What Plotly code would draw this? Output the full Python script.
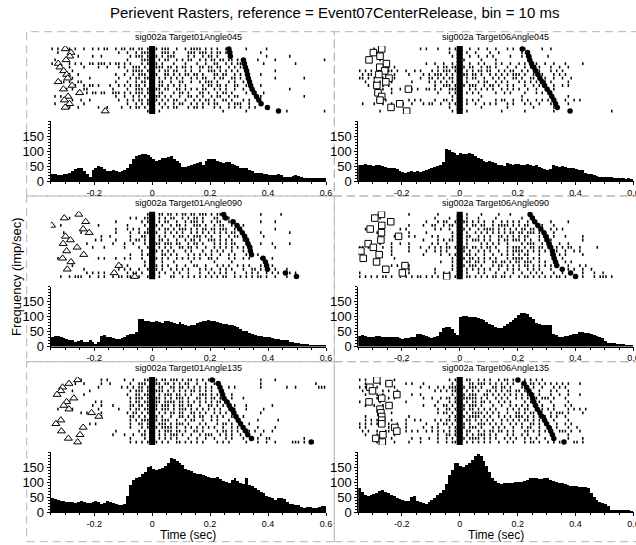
import plotly.graph_objects as go

W, H = 636, 545
FONT = "Liberation Sans, Arial, sans-serif"

BIN_START = -0.35
BIN_WIDTH = 0.01
N_BINS = 95

main_title = "Perievent Rasters, reference = Event07CenterRelease, bin = 10 ms"
panel_titles = ["sig002a Target01Angle045", "sig002a Target06Angle045",
                "sig002a Target01Angle090", "sig002a Target06Angle090",
                "sig002a Target01Angle135", "sig002a Target06Angle135"]
x_tick_vals = [-0.2, 0, 0.2, 0.4, 0.6]
x_tick_text = ["-0.2", "0", "0.2", "0.4", "0.6"]
y_tick_vals = [0, 50, 100, 150]
y_tick_text = ["0", "50", "100", "150"]
y_label = "Frequency (imp/sec)"
x_label = "Time (sec)"

# ---------------- histograms (imp/sec), 95 bins of 10 ms from -0.35 s ----------------
hist_t01_a045 = [24, 22, 19, 20, 24, 25, 27, 33, 40, 43,
                 42, 35, 22, 13, 38, 45, 50, 48, 40, 34,
                 34, 36, 33, 31, 32, 36, 45, 58, 75, 84,
                 88, 90, 89, 86, 80, 72, 66, 70, 76, 78,
                 80, 82, 74, 68, 60, 48, 46, 50, 55, 58,
                 60, 63, 55, 68, 74, 74, 73, 68, 62, 60,
                 62, 63, 58, 55, 50, 45, 44, 42, 38, 34,
                 28, 26, 26, 24, 22, 21, 19, 20, 22, 20,
                 14, 13, 15, 17, 19, 18, 12, 11, 10, 9,
                 9, 10, 11, 11, 10]
hist_t06_a045 = [52, 55, 58, 55, 52, 50, 52, 55, 50, 48,
                 45, 44, 44, 40, 35, 30, 27, 30, 32, 30,
                 32, 31, 34, 36, 40, 44, 48, 50, 54, 62,
                 108, 104, 98, 92, 88, 94, 90, 90, 94, 90,
                 84, 78, 73, 68, 62, 66, 64, 60, 55, 52,
                 50, 60, 58, 55, 58, 57, 55, 54, 56, 55,
                 50, 52, 48, 44, 40, 38, 40, 52, 50, 48,
                 50, 46, 44, 44, 44, 40, 38, 36, 28, 24,
                 22, 20, 18, 15, 14, 15, 14, 12, 10, 10,
                 9, 9, 8, 9, 8]
hist_t01_a090 = [33, 36, 36, 33, 30, 27, 25, 22, 18, 20,
                 22, 18, 16, 22, 18, 10, 18, 38, 41, 33,
                 32, 30, 28, 27, 30, 33, 39, 42, 44, 50,
                 93, 92, 88, 86, 84, 84, 86, 84, 80, 86,
                 86, 84, 80, 78, 82, 76, 73, 70, 72, 75,
                 80, 84, 86, 88, 90, 88, 86, 82, 80, 78,
                 76, 75, 72, 70, 66, 61, 55, 52, 48, 44,
                 41, 38, 36, 34, 33, 33, 31, 28, 27, 25,
                 24, 22, 18, 16, 14, 13, 11, 10, 9, 8,
                 8, 7, 7, 6, 4]
hist_t06_a090 = [38, 39, 37, 35, 34, 35, 37, 36, 34, 34,
                 34, 34, 33, 32, 30, 28, 29, 30, 33, 34,
                 44, 45, 40, 36, 33, 31, 33, 38, 50, 62,
                 66, 66, 60, 48, 40, 100, 104, 103, 101, 101,
                 100, 98, 95, 90, 84, 78, 73, 66, 64, 62,
                 70, 78, 85, 90, 98, 106, 112, 113, 110, 100,
                 95, 80, 77, 75, 74, 73, 72, 45, 39, 34,
                 35, 36, 37, 39, 42, 45, 50, 50, 48, 46,
                 42, 39, 36, 34, 30, 20, 15, 13, 12, 11,
                 10, 9, 8, 7, 6]
hist_t01_a135 = [46, 42, 40, 38, 37, 35, 34, 33, 31, 34,
                 37, 32, 31, 30, 34, 36, 32, 28, 31, 37,
                 33, 30, 27, 25, 23, 26, 52, 90, 108, 112,
                 118, 128, 132, 150, 152, 145, 140, 144, 148, 152,
                 165, 180, 178, 170, 162, 158, 145, 140, 137, 130,
                 126, 128, 124, 120, 118, 114, 115, 116, 110, 104,
                 100, 98, 108, 113, 104, 98, 92, 113, 90, 86,
                 80, 75, 68, 62, 55, 50, 48, 40, 46, 48,
                 44, 33, 28, 26, 24, 22, 17, 15, 16, 18,
                 15, 14, 16, 20, 19]
hist_t06_a135 = [80, 68, 58, 55, 56, 60, 64, 70, 72, 68,
                 62, 58, 54, 48, 44, 40, 38, 38, 50, 55,
                 36, 32, 30, 28, 34, 40, 48, 58, 64, 72,
                 92, 124, 140, 165, 165, 155, 150, 156, 165, 172,
                 188, 194, 186, 170, 155, 135, 115, 105, 97, 95,
                 98, 96, 96, 98, 99, 100, 101, 104, 108, 112,
                 114, 112, 111, 110, 112, 113, 108, 104, 100, 98,
                 96, 94, 90, 86, 86, 88, 84, 82, 82, 80,
                 62, 50, 40, 33, 30, 28, 20, 8, 5, 4,
                 4, 5, 6, 4, 3]

# ---------------- event times per trial (s), top trial first ----------------
start_t01_a045 = [-0.300, -0.280, -0.284, -0.297, -0.324, -0.318, -0.305, -0.295, -0.291,
                  -0.324, -0.276, -0.306, -0.250, -0.290, -0.303, -0.285, -0.300, -0.162]
end_t01_a045 = [0.265, 0.268, 0.270, 0.315, 0.318, 0.322, 0.326, 0.329, 0.332,
                0.336, 0.340, 0.345, 0.352, 0.360, 0.368, 0.376, 0.398, 0.436]
start_t06_a045 = [-0.269, -0.298, -0.275, -0.313, -0.253, -0.276, -0.259, -0.279, -0.244,
                  -0.255, -0.286, -0.177, -0.282, -0.269, -0.275, -0.207, -0.237, -0.183]
end_t06_a045 = [0.216, 0.234, 0.238, 0.242, 0.248, 0.256, 0.262, 0.270, 0.277,
                0.285, 0.293, 0.302, 0.311, 0.318, 0.325, 0.331, 0.337, 0.381]
start_t01_a090 = [-0.253, -0.303, -0.229, -0.347, -0.238, -0.217, -0.299, -0.282, -0.307,
                  -0.259, -0.295, -0.236, -0.309, -0.280, -0.115, -0.293, -0.131, -0.060]
end_t01_a090 = [0.247, 0.254, 0.279, 0.293, 0.302, 0.311, 0.319, 0.326, 0.331,
                0.337, 0.339, 0.343, 0.383, 0.391, 0.395, 0.398, 0.460, 0.498]
start_t06_a090 = [-0.270, -0.293, -0.238, -0.269, -0.309, -0.270, -0.211, -0.272, -0.316,
                  -0.298, -0.341, -0.278, -0.333, -0.287, -0.189, -0.255, -0.198, -0.045]
end_t06_a090 = [0.243, 0.251, 0.259, 0.270, 0.280, 0.291, 0.297, 0.302, 0.308,
                0.314, 0.320, 0.323, 0.326, 0.331, 0.335, 0.354, 0.383, 0.400]
start_t01_a135 = [-0.257, -0.287, -0.309, -0.315, -0.328, -0.270, -0.295, -0.305, -0.287,
                  -0.209, -0.184, -0.315, -0.332, -0.238, -0.313, -0.249, -0.289, -0.257]
end_t01_a135 = [0.207, 0.228, 0.234, 0.239, 0.243, 0.248, 0.257, 0.266, 0.274,
                0.282, 0.289, 0.297, 0.305, 0.314, 0.323, 0.330, 0.343, 0.549]
start_t06_a135 = [-0.286, -0.244, -0.310, -0.301, -0.217, -0.269, -0.313, -0.244, -0.275,
                  -0.272, -0.269, -0.269, -0.269, -0.224, -0.217, -0.265, -0.290, -0.267]
end_t06_a135 = [0.201, 0.222, 0.231, 0.239, 0.247, 0.252, 0.256, 0.262, 0.268,
                0.277, 0.285, 0.293, 0.300, 0.308, 0.314, 0.320, 0.325, 0.360]

# ---------------- rasters: one string per trial, one char per 10 ms bin ('|' = spike) ----------------
raster_t01_a045 = [
    "|.|.. ||.|. .|..| .|.|| ..|.| |.||. ||.|| .|.|| |..|. .|.|| ||.|. |.|.. |.... ..|.. ....| ..... ..... ..... .....",
    "..|.. .|... ..... ..... ...|. .|..| .|||. |..|| |.|.. ..||| .|||. |.||. |.... ..... ..|.. ..... ..... ..... .....",
    "..... ....| ....| ..|.. ..... ..|.| ||.|| ||.|. |||.. ..|.| ..|.| |.|.. .|... ..... ....| ..... ..|.. ..... .....",
    ".|... ..... ..... ..... ..... .|... .|||| |.|.| |..|. |.||. .|.|. ||.|| .||.| ..... .|... ..|.. ..... ..... ....|",
    "|.... .|.|. |..|| .|||. |.||. |.|.. .|.|| ||.|. ..|.. .|... |..|. .||.. |.|.| |.... ...|. ..... ....| ..... .....",
    "..... .|... .|... .|..| ...|. |..|| |.|.| .|||. ||.|. ||.|. .||.| |.||. .|.|. |.... ..... ..... ..... ..... .....",
    "..... ..|.. ..... ..... ..... .|.|| ||.|. |.|.| |.||. .|.|. .|..| ||.|. |.|.| ..... ..... ..|.. ..... ..... .....",
    "..... .|..| ..... ..... ..|.. |..|. |||.| .|..| |.|.| .||.| |.|.. .||.| |..|. |.... ..|.. ..... ..... ..... .....",
    "..... ..|.. ...|. ..... ...|. ..|.| |.||| ..|.| .|.|. |..|. |.||. .|.|| ..||. |.... ..... ..|.. ..... ..|.. .....",
    "...|| .|..| |.... ..... ..|.. .|..| .||.| |.||. .|..| |..|. .|.|| |.|.. .|.|. .|... ..... ..... ..... ..... .....",
    "..... ...|. .|.|| .|... |..|. |.|.| |.|.| |.||. |.|.| .|... ..|.| |.||. |..|| ..|.. ..|.. ..... ..... ..... .....",
    "..... |.|.. .||.. ..... .|... .|..| ||.|| .||.| |..|| .|.|. |.||. .|.|. |..|. .|... ..... ..... ..|.. ..... .....",
    "..... ..... ..|.| |.||. .|||. |.|.| ||.|. |.||. ..|.| |.|.. .||.| ..|.| |.|.. ..|.. ...|. ..... ..... ..... .....",
    ".|.|. .|... ..... ..... ..|.. |..|. |.|.| .||.| .|..| ..||. |.|.. |.||. .|.|| ..... ..|.. ..... ..... ..|.. .....",
    "..... ..|.. |..|. ..... ...|. .|.|. ||.|| .|.|. |.||. .|..| .|.|| .|..| |.|.. .|.|. ..... ..... ..... ..... .....",
    ".|... .|... .|... ..... ..... .|..| .|.|| |.|.| ..|.| |..|. |.|.| .||.. .|.|| |..|. ..... ..... ..... ..... .....",
    "..... .|..| ..... .|..| ....| ..|.| |.|.| |..|. |.||. ..|.| |.|.. .|.|. .|.|. |..|. |.... ..... ..... ..... .....",
    "..... ..... ..... ..... ..... ..... ...|. ..|.. ..... ..... ..... ....| ..... ..|.. ..... ..... .|... ..... ....|",
]
raster_t06_a045 = [
    "..... |..|. ..... ..... .|.|. ..|.. .|.|. |..|. .|..| ..|.. .|.|. ..|.. ...|. .|... ..... ..... ..... ..... .....",
    "..... .|... ..... ..... ..... ..... .|..| ..|.. |.... |..|. ..... .|... ..... ..... ..... ..... ..... ..... .....",
    "..... ..... ..... ..... ..... ..... ..|.. |..|. .|..| .|... ..|.. .|..| ..... |.... ..... ..... ..... ..... .....",
    "..... ..|.. ..... ..... ..... ..... ..... .|... ..|.. ..|.. ..... ...|. ..... ..... ..... ..... ..... ..... .....",
    "..... ..... ..... ..... ...|. .|..| ..|.| |..|. .|.|. ..|.| ..|.. |.|.. .|..| ..|.. .|... ..|.. ..... ..... .....",
    "..... ..|.. |.|.. ..... ..... ..|.| |.||. .|.|| ..|.| |.|.. .|..| ..|.| ..|.. .|..| ..|.. ..... ..... ..... .....",
    "|.|.| .|.|. ||.|. .|..| .|... |.|.| ||.|| |.|.| .||.| |..|. |.||. .|.|. |.|.. .|.|. |.... ..... ..... ..... .....",
    ".|.|| .|..| ..|.. ..|.. ..|.| .|||. |.|.| .||.| |.|.. |.|.| .|.|| |.|.. |..|. ..|.| .|... ..... ..... ..... .....",
    "||.|. |..|| |.|.. ..... .|..| |.|.| .||.| |.|.| |..|. .|.|. |..|| .|..| |.|.| ..|.. |..|. ..... ..... ..... .....",
    "..|.. |.|.. .|... ...|. ....| .|.|. |.|.| |.|.. .|.|| ..|.| .|... |.|.| .|..| .|... ..|.. ..... ..... ..... .....",
    "...|. ||.|. |.... ..... ..... .|..| ||.|| .|.|| |..|. ||.|. .|.|. ..|.. |.|.| ..|.. |.|.. ..... ..... ..... .....",
    "..... .|.|. .|..| .|.|. |..|| .|.|. .|||. |..|. |.|.| .|..| .|.|. |..|. .|... ..|.. ..... ..... ..... ..... .....",
    "..... ..... .|... ..... ..... ..|.. .|.|. ..|.| .|... ..|.. |.|.. ..|.. .|.|. .|... ..... ..... ..... ..... .....",
    "..... ..... ..... ..... ..... ..... ..|.. ..... ..|.. ..... ..... .|... ..... ..... ..|.. ..... ..... ..... .....",
    "..... .|..| ..... ..|.| .|... .|..| |.|.. |.|.| .|... ..|.| |..|. .|.|. .|.|. |.... .|..| .|... ..... ..... .....",
    ".|... |..|. .|..| |..|. ..|.| |..|. .|.|| |.|.. |..|. |.|.. .|.|. ..|.| ..|.. .|... ..|.. ..... ..... ..... .....",
    "..... ..... ..... ..... ..... ..... .|... ..... ..|.. ..... .|... ..... |.... ..|.. ..... ..... ..... ..... .....",
    "..... ..|.. ..... .|... ..... ..... ..|.. ..|.. ..... ....| ..... ..|.. ..... ..|.. ..... ..... ..... ..|.. .....",
]
raster_t01_a090 = [
    "..... ..... ..... ..... ..... ..... ...|| |.||. ||.|. ||.|| .|||. |.||. ..... ..... ..|.. ....| ..... ..... .....",
    "..... .|... ..... ..... ..... ..|.| ..||. |.|.| .||.. |.|.| |.|.. .||.| .|... ..... ..... ..... ..... ..... .....",
    "..... ..... ..... ..... ..|.. ..... .|.|| ..|.| |..|. .|.|| |.|.. |.||. .|.|. ..... ..|.. ..|.. ..... ..... .....",
    "...|. ..... ..... .|... ..... .|... ..|.. .|.|. .|.|| .|..| ||.|. .|.|| ..|.| .|... ..... ..... ..... ..... .....",
    "..... ..... .|... ..... ..|.. .|.|. |..|. ..|.| |.|.| ||.|. |.||. ||.|| |..|. |.... ..... ..|.. ..... ..... .....",
    "....| ..... |..|. ..... ..|.. ..|.. |.||. ||..| .|.|. |..|. |.|.| .|.|. |.||. ..... ..|.. ..... ..|.. ..... .....",
    "..... ..... ..... ..|.. |.... ..|.. .||.| |.|.| ..|.| |.|.| ||.|. |..|. .|.|| ..... ...|. ..... ..... ..... .....",
    "..... ..... ..... |.|.. ..|.. ..|.| |.|.. |.||. |..|. .|.|| .|..| ||.|. |.|.. .|... ..... ..... ..... ..... .....",
    "..... ..... ..|.. ..... .|... |..|. ..|.| .||.| ||.|| ..|.| |.|.. .|.|. |.||. ..|.. ..|.. .|... ..|.. ..... .....",
    "..... ..... ....| ...|. ..... |.... |..|. |.|.| .|..| |.||. |..|. .|.|. |.|.| .|... ..... ..|.. ..... ..... .....",
    "..... ..... ..... ..... ..... ..... .|..| .|.|. |.|.. .|.|. ..|.. |.|.| ..|.. .|... ..... ..... ..... ..... .....",
    "..... ..... ..... ..... ..... ..|.. .|.|. |..|| .|.|. ..|.| .|.|. |..|. .|.|. ..|.. .|... ..... ..... ..... .....",
    "..|.. ..... ..... .|.|. ..|.. |.|.. .|..| ||.|. |..|. |.|.| .|..| |.|.. .|.|. .|.|. ..|.. .|... ..... ..... .....",
    "..... ..... ..... ..... ..... ..... ..|.. |..|. ..|.. ...|. ..... .|... ..|.. ..... ..... ..... ..... ..... .....",
    "..... ..|.. ..... ..... ....| .|... ..|.| .|.|. |..|. .|..| |..|. ..|.| .|..| .|.|. ..|.. .|... ..... ..... .....",
    "..... ..... .|... ..... ...|. |.|.. |..|. ||.|. .|.|. |.|.. .|.|. |..|. |.|.. .|..| |.|.. ..|.. .|... ..... .....",
    "..... ..... ..|.| .|.|. ..|.. .|.|| .|... |.|.| ..|.| ..|.. .|..| .|.|. |..|. ..|.| .|..| .|.|. ..|.| ..... .....",
    "...|. .|.|| |..|. .|.|. .|.|| .||.| |..|| |.|.. .||.. |.|.| .|.|. |.|.| |..|. |.|.| .||.| ..|.. .|... ..... .....",
]
raster_t06_a090 = [
    "..... ..... ..... ..|.. ..... ..|.. ..... ..|.. ..|.. ...|. ..|.. ..... ..... ..... ..... ..... ..... ..... .....",
    "..... ..|.. ..... ..... ..... .|... .|... |.|.. .|... ..|.. ..... .|... ..... ..... ..... ..... ..... ..... .....",
    "..... ..... ..... ..... ...|. ..|.| |..|. .||.| .|.|. .|..| .|.|. |..|. .|... .|... ..|.. ..... ..... ..... .....",
    "..... ..... ..... ..|.. ..|.. ||..| .||.| |.|.| |.||. .|.|| ||.|. |.||. .|.|. ..|.. ..... ..... ..... ..... .....",
    "..|.. ..... ....| .|... ..... .|.|. .|..| ||.|. .|.|| ||.|. |.|.| .||.| |..|. .|.|. |.... ..... ..... ..... .....",
    "..... .|... ..... ..|.. ...|. ..... ..|.| |.|.. |.|.| .|.|. |.||. ||.|| |.|.. ..|.. ..... ..... ..... ..... .....",
    "..... ..... ..|.. ..|.| ..... |.|.. ..|.. |.||. .|.|. |..|| .|.|. |.||. ..|.| |.|.. .|... ..|.. ..... ..... .....",
    "..... ..... ..... ..... ..|.. ..|.| .||.| |.|.| ||.|. |..|. ||.|| |.|.| ..|.| .|... ..... ..|.. ..... ..... .....",
    "...|. ..|.. .|..| ..|.. ..... |.|.. |.... |.|.. ..|.| .|.|. .|... .|.|| |..|. .|..| ..|.. ..... ..... ..... .....",
    "||.|. |..|. .|... ..|.. .|..| .|.|. ||.|| .||.| |.|.| |.|.. .|.|| |.|.| |.||. |..|. |.||. .|... ..|.. ..... .....",
    "..... ..... .|... ..|.. ...|. .|.|. |.... ||.|. .|.|. |..|. .|.|| ||.|. |.|.| .|.|. .|..| .|... ..... ..... .....",
    "..... ..... .|... ..... ..|.. ...|. .|.|. |.||. |..|. .|..| .|.|. |.||. ..|.. .|..| .|... ..|.. ..... ..... .....",
    "..... ..... ..|.. ..... ..... ..... ..|.. ||.|| .|.|. |.|.. .|.|| ||.|. |.|.. ..... |.... ..... ..... ..... .....",
    "..... ..... ..... ..... ..... ...|. ..|.. |.||. ||.|. .||.| |.|.| |.||| ..|.| ..... .|.|. ..... ..... ..... .....",
    "..... ..... .|.|. ..|.. ..... ..... ..|.| ||.|| |.|.. .|.|| .|.|. |.||. |.|.| .|... ..|.. .|.|. ..... ..... .....",
    "..... ..... ..... ..|.. ..... .|... ..|.. |.|.| .|.|. |..|. .|.|. |..|. |.|.. .|... ..|.| ..|.. |.... ..... .....",
    "|.... ..... ..... ..|.. ..... .|..| .|..| |.|.. .|.|. ..|.. |..|. .|..| .|.|. ..|.. |..|. ..|.. .|..| ..... .....",
    "|.|.| .|.|| .|..| .|.|. ||.|. |.|.| .|.|. |.||. |.|.| .||.| |.|.. |.||. |.|.| .|.|| .|..| |.|.. .|.|| |.|.. .....",
]
raster_t01_a135 = [
    "..... ..... |.... ..|.| ..... |..|. ..||. ||.|| .|||. |.||. |.|.| .|... ..... ..... ..|.. ..|.. ..... ..... .....",
    "..... .|.|. .|... ..|.. |.... ..|.. |||.| .||.| |.|.| .||.. |..|. .|... ..... ..... ..|.. ..... ..... ..... .|...",
    "..... ..... ..... .|... ....| .|.|. ||.|| |.||. .||.| |.|.| .|.|. |..|. .|.|. ..... ..|.. ..... .|..| ..... ..|||",
    "..... ..|.. ...|. ..... ..... ..|.| ||.|| .|||. |.|.| .|.|| .|.|. |..|. ..... ..... ..... ..... ..... ..... .....",
    "..... ..... .|... ..... ..... .|..| |.||| |.|.| ||.|| .|.|. .|||. |.|.. ..|.. ..... ..... ..... ..... ..... .....",
    "..... ..|.. ..... ..... ..... ..|.| ||.|. |||.| .|.|| |.|.. ||.|. ||.|. ..|.. .|... ..... ..... ..... ..... .....",
    "..... .|... ..... |.|.. ..... ..|.| |.||| .||.| |||.| |.|.| .|.|. |.||. .|... ..... ..... ..... ..... ..... .....",
    "..... ..... ....| ..|.. .|... ..||. ||.|| .|.|| |.|.| |.||. .|..| |.|.| .|.|. ..|.. ..... .|... ..... ..... .....",
    "..|.. ..|.. ..... .|... ...|. ..|.| |.||. ||.|| |.|.| ||.|. |.|.| .|.|. .|.|. ..|.. ...|. ..... ..... ..... .....",
    "..... ..... |.|.. ..|.. ..... .|.|| .|.|| |.|.| .||.| |..|| .|.|. .|.|. |.||. ..... ..|.. ..... ..... ..... .....",
    "..... ..... ..... ..|.. ..... ..||. |.|.| ||.|. .|..| |.|.| .||.. |.|.| ..|.| .|... ..... ..... ..... ..... .....",
    "..... ..... ..... ..... ..... ..|.| .|||. .|.|| |..|. .|.|| ..|.. |.|.. .|..| ..... .|... ...|. ..... ..... .....",
    "..|.. ..... ...|. |.... ..... ..|.. ||.|. |.||| .|.|| |.|.. .|.|. ..|.| |.|.. |..|. ..... ..... ..... ..... .....",
    "..... ..... ..... ..... ..... ..|.. .|.|| .|.|| ||.|. .|.|. |.|.| .|..| ..|.| ..... .|... ..|.. ..... ..... .....",
    "..... ..... ..... ..... ..|.. ..... |.|.| |.|.| ||.|| .|..| |.|.. ..|.| |.|.| .|.|. |..|. .|... ..... ..... .....",
    "..... ..... ..... ..... .|... |..|. .||.| |.|.| .|||. |..|. .|.|| |..|. |.|.. |..|. ..|.. ..... ..... ..... .....",
    "..... ..... ..... ..... ..... ..|.. ..|.| ..|.| .|.|. ..|.. |..|. .|... |.|.. .|... .|..| |.... ..... ..|.. .....",
    "..... ..... ..... ..... ..... ..|.| .|.|| ||.|. |..|| .|.|. |.|.. ..|.| .|... ..|.. .|..| ..|.. ...|| |.|.. |....",
]
raster_t06_a135 = [
    "|.|.. .|... ..|.. ..... ..... ..... .|.|. |.||. .|.|. |..|. ||.|. |.|.| .|.|. ..... ..... ..... ..... ..... .....",
    "..|.. ..|.| ..... .|.|. ..|.. ..... ..|.. |..|| .|||. |.|.| .|.|. .|..| |.|.| .|.|. |.|.. .|... ..... ..... .....",
    "|.|.| .|... ..|.. ..... .|..| ..|.| .|||. ||.|| |.|.. .||.| |.|.. .|.|. |..|. ..|.| .|... ..... ..... ..... .....",
    ".|... ...|. |..|. ..... ..... .|.|. |.||. |.|.| .|..| |.|.| .||.| |.|.. ..|.. .|.|. ..|.. ..... ..... ..... .....",
    "..|.. .|.|. ..... ...|. .|... ..... ..|.| ||.|| |..|| .|.|. |.|.| .|.|. |.|.. .|..| ..|.. .|... ..... ..... .....",
    "..... .|... |.|.. ..... ..|.. |..|. ||.|| .|||| |.|.| ..|.| .|..| .|.|. .|.|| |.|.. .|... ..... ..... ..... .....",
    "|.... ..|.. ..... .|... ..... ..|.. .|.|| |.|.| |.||. |..|. |.|.. ..|.| ..|.. .|... ..|.. ..... ..... ..... .....",
    "..|.. |..|. .|... ..... ..|.. .|..| |.|.| .|.|| |.|.. .|..| ..|.| .|.|. |..|. ..|.. .|.|. ..... ..... ..... .....",
    "..... ..|.. ..... ..... ..... ..|.. ||.|| ||.|| .|.|. |.|.. .|.|. |.||. .|.|. |.|.. ..|.| .|.|. ..... ..... .....",
    "..... ...|. .|... ..... ..... ..|.| |.|.| |.|.| |||.| .|.|. .|..| |.|.| |.|.. .|.|| |.|.. ..|.. ..... ..... .....",
    "..|.. ..|.. ..... ..|.. ..... ..... .|.|| ||.|| ||.|. |..|. |.|.| ||.|. |.|.| .|.|. .|... ..... ..... ..... .....",
    "..|.| .|.|. .|... .|..| .|... .|.|. ||.|| |.||. |.|.| .|..| .|.|. |.||. |.|.| ..|.. ..|.. ..... ..... ..... .....",
    "|.|.| .|.|. |..|. .|... ...|. ..|.| |.|.| ||.|. .|||. |.|.| ..|.| .|..| |.|.. |..|. .|.|. ..... ..... ..... .....",
    "|.|.. ..... |.|.. .|... ..|.. |.|.. .|.|| ||.|| |.|.. .|.|. |..|. .|.|| ..|.. .|.|. ..|.. |.... ..... ..... .....",
    ".|.|. .|..| |..|. .|.|. |..|. |.|.| .|.|| |.||. .|.|. ||.|| .|.|. ..||. |.|.| .|..| ||.|. .|... ..... ..... .....",
    "..|.. .|... ..|.. ..... ..... ..|.. ||.|. |.|.| .|||. |.|.. .|.|. .|.|. ..|.. ..|.. ..|.. ..... ..... ..... .....",
    "..... ..|.. .|... ...|. .|..| ..|.. |.|.| .|.|| ||.|. |.|.. |.|.| ..|.| .|..| ..|.. ..|.. ..|.. ..... ..... .....",
    "..... .|... ..|.. ..|.. .|... ..|.. |.||. |.|.| .|.|. |..|. .|.|. ..|.| |.|.. |.|.| .|..| |.|.. ..... ..... .....",
]

panels = [
    (panel_titles[0], hist_t01_a045, raster_t01_a045, start_t01_a045, end_t01_a045, "triangle-up"),
    (panel_titles[1], hist_t06_a045, raster_t06_a045, start_t06_a045, end_t06_a045, "square"),
    (panel_titles[2], hist_t01_a090, raster_t01_a090, start_t01_a090, end_t01_a090, "triangle-up"),
    (panel_titles[3], hist_t06_a090, raster_t06_a090, start_t06_a090, end_t06_a090, "square"),
    (panel_titles[4], hist_t01_a135, raster_t01_a135, start_t01_a135, end_t01_a135, "triangle-up"),
    (panel_titles[5], hist_t06_a135, raster_t06_a135, start_t06_a135, end_t06_a135, "square"),
]

# ---------------- layout geometry (pixels) ----------------
col_px = [(50.7, 326.0), (358.3, 633.5)]
row_off = [0.0, 165.5, 331.0]
rast_px = (46.0, 114.0)
hist_px = (121.0, 181.0)
title_px = 37.0
box_cols = [(26.7, 334.3), (334.3, 645.0)]
box_rows = [(31.7, 196.0), (196.0, 361.7), (361.7, 541.7)]


def fx(p):
    return p / W


def fy(p):
    return 1 - p / H


centers = [BIN_START + (i + 0.5) * BIN_WIDTH for i in range(N_BINS)]

fig = go.Figure()
layout = dict(
    width=W, height=H, margin=dict(l=0, r=0, t=0, b=0, pad=0, autoexpand=False),
    paper_bgcolor="white", plot_bgcolor="rgba(0,0,0,0)",
    showlegend=False, bargap=0, font=dict(family=FONT, color="black"),
)
annotations = []
shapes = []

for k, (ttl, hist, raster, starts, ends, sym) in enumerate(panels):
    r, c = divmod(k, 2)
    ar = 2 * k + 1
    ah = 2 * k + 2
    xr, yr = ("x" if ar == 1 else f"x{ar}"), ("y" if ar == 1 else f"y{ar}")
    xh, yh = f"x{ah}", f"y{ah}"
    x0, x1 = col_px[c]
    dom_x = [fx(x0), fx(x1)]
    off = row_off[r]
    n = len(raster)

    # spikes
    sx, sy = [], []
    for j, s in enumerate(raster):
        s = s.replace(" ", "")
        for i, ch in enumerate(s[:N_BINS]):
            if ch == "|":
                sx.append(centers[i])
                sy.append(j + 1)
    fig.add_trace(go.Scatter(x=sx, y=sy, mode="markers", xaxis=xr, yaxis=yr,
                             marker=dict(symbol="line-ns", size=2, color="black",
                                         line=dict(width=1.5, color="black")),
                             hoverinfo="skip"))
    # reference event (time 0) for each trial
    fig.add_trace(go.Scatter(x=[0.0] * n, y=list(range(1, n + 1)), mode="markers",
                             xaxis=xr, yaxis=yr,
                             marker=dict(symbol="square", size=6, color="black",
                                         line=dict(width=0)),
                             hoverinfo="skip"))
    # start event markers
    fig.add_trace(go.Scatter(x=starts, y=list(range(1, len(starts) + 1)), mode="markers",
                             xaxis=xr, yaxis=yr,
                             marker=dict(symbol=sym, size=7 if sym == "triangle-up" else 6.5,
                                         color="white", line=dict(width=1, color="black")),
                             hoverinfo="skip"))
    # end event markers
    fig.add_trace(go.Scatter(x=ends, y=list(range(1, len(ends) + 1)), mode="markers",
                             xaxis=xr, yaxis=yr,
                             marker=dict(symbol="circle", size=5.5, color="black",
                                         line=dict(width=0)),
                             hoverinfo="skip"))
    # histogram
    fig.add_trace(go.Bar(x=centers, y=hist, width=BIN_WIDTH, xaxis=xh, yaxis=yh,
                         marker=dict(color="black", line=dict(width=0)),
                         hoverinfo="skip"))

    ra0, ra1 = rast_px
    layout["xaxis" if ar == 1 else f"xaxis{ar}"] = dict(
        domain=dom_x, anchor=yr, range=[-0.35, 0.6], visible=False, fixedrange=True)
    layout["yaxis" if ar == 1 else f"yaxis{ar}"] = dict(
        domain=[fy(ra1 + off), fy(ra0 + off)], anchor=xr, range=[n + 0.8, 0.2],
        visible=False, fixedrange=True)

    h0, h1 = hist_px
    layout[f"xaxis{ah}"] = dict(
        domain=dom_x, anchor=yh, range=[-0.35, 0.6], showgrid=False, zeroline=False,
        showline=True, linecolor="black", linewidth=1,
        tickmode="array", tickvals=x_tick_vals, ticktext=x_tick_text,
        ticks="outside", ticklen=3, tickcolor="black", tickwidth=1,
        ticklabeloverflow="allow",
        tickfont=dict(size=9, family=FONT, color="black"),
        minor=dict(tickmode="linear", tick0=0, dtick=0.05, ticks="outside",
                   ticklen=2, tickcolor="black"),
        fixedrange=True)
    layout[f"yaxis{ah}"] = dict(
        domain=[fy(h1 + off), fy(h0 + off)], anchor=xh, range=[0, 200],
        showgrid=False, zeroline=False, showline=True, linecolor="black", linewidth=1,
        tickmode="array", tickvals=y_tick_vals, ticktext=y_tick_text,
        ticks="outside", ticklen=3, tickcolor="black", tickwidth=1,
        ticklabeloverflow="allow",
        tickfont=dict(size=13, family=FONT, color="black"),
        minor=dict(tickmode="linear", tick0=0, dtick=10, ticks="outside",
                   ticklen=2, tickcolor="black"),
        fixedrange=True)

    annotations.append(dict(text=ttl, xref="paper", yref="paper",
                            x=fx((x0 + x1) / 2), y=fy(title_px + off),
                            xanchor="center", yanchor="middle", showarrow=False,
                            font=dict(size=9, family=FONT, color="black")))

for (bx0, bx1) in box_cols:
    for (by0, by1) in box_rows:
        shapes.append(dict(type="rect", xref="paper", yref="paper",
                           x0=fx(bx0), x1=fx(bx1), y0=fy(by1), y1=fy(by0),
                           line=dict(color="#b4b4b4", width=1, dash="8px,5px"),
                           fillcolor="rgba(0,0,0,0)", layer="below"))

annotations.append(dict(text=main_title, xref="paper", yref="paper", x=fx(334), y=fy(12),
                        xanchor="center", yanchor="middle", showarrow=False,
                        font=dict(size=15, family=FONT, color="black")))
annotations.append(dict(text=y_label, xref="paper", yref="paper", x=fx(16), y=fy(277),
                        xanchor="center", yanchor="middle", showarrow=False, textangle=-90,
                        font=dict(size=13, family=FONT, color="black")))
for c in range(2):
    x0, x1 = col_px[c]
    annotations.append(dict(text=x_label, xref="paper", yref="paper",
                            x=fx((x0 + x1) / 2), y=fy(535),
                            xanchor="center", yanchor="middle", showarrow=False,
                            font=dict(size=12, family=FONT, color="black")))

layout["annotations"] = annotations
layout["shapes"] = shapes
fig.update_layout(**layout)
fig.write_html("out.html", config={"displayModeBar": False},
               post_script="document.body.style.margin='0';document.body.style.overflow='hidden';")
